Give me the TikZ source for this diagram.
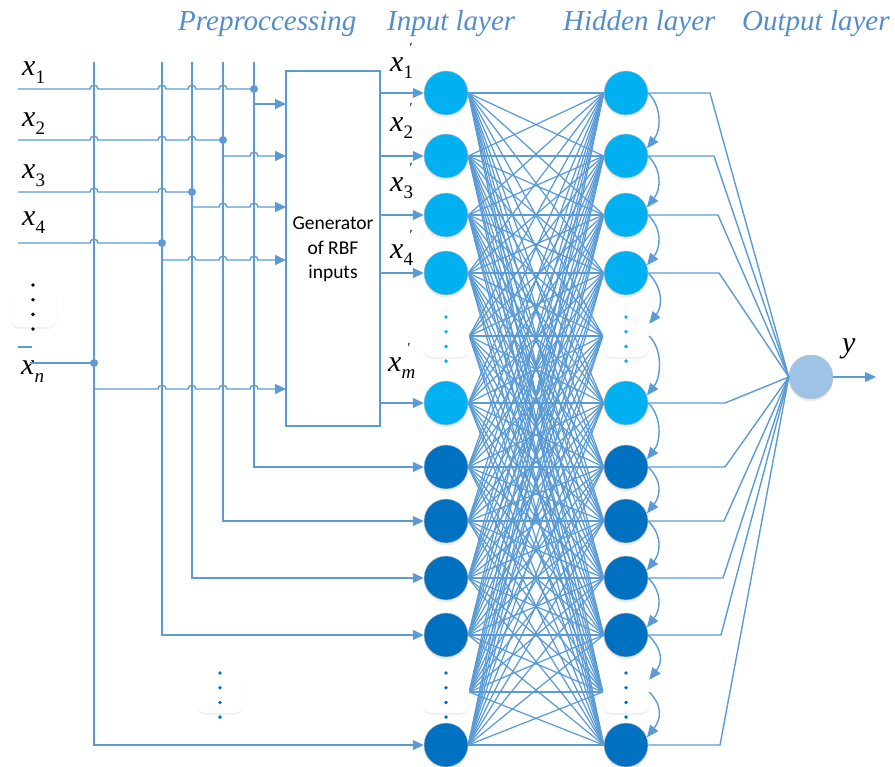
\documentclass[tikz,border=0pt]{standalone}
\usepackage{fontspec}
\setmainfont{Liberation Serif}
\newfontfamily\calibfont{Carlito}
\usetikzlibrary{arrows.meta,shadows,backgrounds}

\definecolor{wire}{HTML}{5B9BD5}
\definecolor{lightnode}{HTML}{00B0F0}
\definecolor{darknode}{HTML}{0070C0}
\definecolor{outnode}{HTML}{9DC3E6}
\definecolor{titleblue}{HTML}{548DC8}

% input variable x_k and generated input x'_k
\newcommand\xin[1]{{\itshape x}\raisebox{-8pt}{\fontsize{19}{19}\selectfont #1}}
\newcommand\xpr[1]{{\itshape x}\rlap{\hspace{6pt}\raisebox{19pt}{\fontsize{14}{14}\selectfont\symbol{"2032}}}\raisebox{-7pt}{\fontsize{19}{19}\selectfont #1}}

\tikzset{
  title/.style={font=\fontsize{29}{30}\selectfont\itshape, text=titleblue, inner sep=0pt, anchor=base west},
  lbl/.style={font=\fontsize{30}{32}\selectfont, inner sep=0pt, anchor=base west},
  wire/.style={draw=wire, line width=1.4pt},
  net/.style={draw=wire, line width=1.25pt},
  arr/.style={-{Triangle[length=11pt,width=10pt]}},
  carr/.style={-{Triangle[length=12pt,width=10pt]}},
  neuron/.style={circle, minimum size=44pt, inner sep=0pt, draw=black!25, line width=0.5pt,
    drop shadow={opacity=0.15, shadow xshift=0pt, shadow yshift=-2.5pt}},
  lnode/.style={neuron, fill=lightnode},
  dnode/.style={neuron, fill=darknode},
  onode/.style={neuron, fill=outnode},
  dotbox/.style={rectangle, rounded corners=9pt, fill=white, minimum width=46pt, minimum height=42pt,
    inner sep=0pt, drop shadow={opacity=0.12, shadow xshift=0pt, shadow yshift=-2pt}},
  jdot/.style={circle, fill=wire, minimum size=8pt, inner sep=0pt},
  genbox/.style={draw=wire, line width=1.2pt, fill=white, minimum width=94pt, minimum height=355pt, inner sep=0pt},
}

% four dots in a column, starting at (x,y)
\newcommand\dotcol[3]{\foreach \k in {0,1,2,3} \fill[#3] (#1,#2+\k*14.7) circle (1.9pt);}

\begin{document}
\begin{tikzpicture}[x=1pt,y=-1pt]
\useasboundingbox (0,0) rectangle (895,767);

% ---- titles
\node[title] (tpre) at (178,31) {Preproccessing};
\node[title] (tin)  at (387,31) {Input layer};
\node[title] (thid) at (563,31) {Hidden layer};
\node[title] (tout) at (742,31) {Output layer};

% ---- generator block
\node[genbox] (gen) at (333,248.5) {};
\node[font=\calibfont\fontsize{19.5}{24}\selectfont, anchor=base, inner sep=0pt] (g1) at (333,230) {Generator};
\node[font=\calibfont\fontsize{19.5}{24}\selectfont, anchor=base, inner sep=0pt] (g2) at (333,255) {of RBF};
\node[font=\calibfont\fontsize{19.5}{24}\selectfont, anchor=base, inner sep=0pt] (g3) at (333,279) {inputs};

% ---- input layer
\node[lnode] (i1) at (446,93) {};
\node[lnode] (i2) at (446,156) {};
\node[lnode] (i3) at (446,215) {};
\node[lnode] (i4) at (446,273) {};
\node[dotbox] (i5) at (446,336) {};
\node[lnode] (i6) at (446,403) {};
\node[dnode] (i7) at (446,467) {};
\node[dnode] (i8) at (446,521) {};
\node[dnode] (i9) at (446,578) {};
\node[dnode] (i10) at (446,635) {};
\node[dotbox] (i11) at (446,692) {};
\node[dnode] (i12) at (446,745) {};

% ---- hidden layer
\node[lnode] (h1) at (626,93) {};
\node[lnode] (h2) at (626,156) {};
\node[lnode] (h3) at (626,215) {};
\node[lnode] (h4) at (626,273) {};
\node[dotbox] (h5) at (626,336) {};
\node[lnode] (h6) at (626,403) {};
\node[dnode] (h7) at (626,467) {};
\node[dnode] (h8) at (626,521) {};
\node[dnode] (h9) at (626,578) {};
\node[dnode] (h10) at (626,635) {};
\node[dotbox] (h11) at (626,692) {};
\node[dnode] (h12) at (626,745) {};

% ---- output neuron
\node[onode] (o) at (811,377) {};
\coordinate (oend) at (876,377);
\node[lbl] (ylab) at (842,353) {\itshape y};

% ---- dots boxes on the left
\node[dotbox] (ldots) at (33.5,306) {};
\node[dotbox] (bdots) at (220,692) {};
\dotcol{33}{285}{black}
\dotcol{220}{673}{darknode}
\dotcol{446}{317}{lightnode}
\dotcol{626}{317}{lightnode}
\dotcol{446}{673}{darknode}
\dotcol{626}{673}{darknode}

% ---- fully connected weights between input and hidden layer
\begin{pgfonlayer}{background}
\foreach \a in {1,...,12}
  \foreach \b in {1,...,12}
    \draw[net] (i\a.east) -- (h\b.west);
\end{pgfonlayer}

% ---- hidden to output
\foreach \k/\y/\bx in {1/93/710, 2/156/714, 3/215/718, 4/273/719, 6/403/725,
                       7/467/725, 8/521/724, 9/578/723, 10/635/721, 12/745/720}
  \draw[wire] (h\k.east) -- (\bx,\y) -- (o.west);
\draw[wire,arr] (o.east) -- (oend);

% ---- recurrent links down the hidden column
\foreach \a/\b in {1/2, 2/3, 3/4, 5/6, 6/7, 7/8, 8/9, 9/10, 11/12}
  \draw[wire,carr] (h\a.east) .. controls +(14,14) and +(14,-18) .. (h\b.20);
\foreach \a/\b in {4/5, 10/11}
  \draw[wire,carr] (h\a.east) .. controls +(14,14) and +(14,-18) .. ([yshift=-9pt]h\b.north east);

% ---- generator outputs
\foreach \k in {1,2,3,4,6}
  \draw[wire,arr] (gen.east |- i\k.west) -- (i\k.west);

% ---- primed labels
\node[lbl] (p1) at (390,72) {\xpr{1}};
\node[lbl] (p2) at (390,132) {\xpr{2}};
\node[lbl] (p3) at (390,192) {\xpr{3}};
\node[lbl] (p4) at (390,259) {\xpr{4}};
\node[lbl] (pm) at (388,372) {\xpr{\itshape m}};

% ---- input labels
\node[lbl] (x1) at (22,76) {\xin{1}};
\node[lbl] (x2) at (22,127) {\xin{2}};
\node[lbl] (x3) at (22,179) {\xin{3}};
\node[lbl] (x4) at (22,226) {\xin{4}};
\node[lbl] (xn) at (21,375) {\xin{\itshape n}};

% ---- preprocessing bus: vertical lines, then into the lower input nodes
\draw[wire,arr] (254,62) |- (i7.west);
\draw[wire,arr] (223,62) |- (i8.west);
\draw[wire,arr] (192,62) |- (i9.west);
\draw[wire,arr] (162,62) |- (i10.west);
\draw[wire,arr] (94,62)  |- (i12.west);

% input lines with hops over the bus
\draw[wire] (18,89) foreach \c in {94,162,192,223} { -- (\c-4,89) .. controls (\c-4,84) and (\c+4,84) .. (\c+4,89) } -- (254,89);
\draw[wire] (18,140) foreach \c in {94,162,192} { -- (\c-4,140) .. controls (\c-4,135) and (\c+4,135) .. (\c+4,140) } -- (223,140);
\draw[wire] (18,192) foreach \c in {94,162} { -- (\c-4,192) .. controls (\c-4,187) and (\c+4,187) .. (\c+4,192) } -- (192,192);
\draw[wire] (18,243) foreach \c in {94} { -- (\c-4,243) .. controls (\c-4,238) and (\c+4,238) .. (\c+4,243) } -- (162,243);
\draw[wire] (30,363) -- (94,363);
\draw[wire] (18,347) -- (32,347);

\node[jdot] (j1) at (254,89) {};
\node[jdot] (j2) at (223,140) {};
\node[jdot] (j3) at (192,192) {};
\node[jdot] (j4) at (162,243) {};
\node[jdot] (j5) at (94,363) {};

% bus taps into the generator
\coordinate (gi1) at (286,104);
\coordinate (gi2) at (286,156);
\coordinate (gi3) at (286,207);
\coordinate (gi4) at (286,260);
\coordinate (gi5) at (286,389);
\draw[wire,arr] (254,104) -- (gi1);
\draw[wire,arr] (223,156) foreach \c in {254} { -- (\c-4,156) .. controls (\c-4,151) and (\c+4,151) .. (\c+4,156) } -- (gi2);
\draw[wire,arr] (192,207) foreach \c in {223,254} { -- (\c-4,207) .. controls (\c-4,202) and (\c+4,202) .. (\c+4,207) } -- (gi3);
\draw[wire,arr] (162,260) foreach \c in {192,223,254} { -- (\c-4,260) .. controls (\c-4,255) and (\c+4,255) .. (\c+4,260) } -- (gi4);
\draw[wire,arr] (94,389) foreach \c in {162,192,223,254} { -- (\c-4,389) .. controls (\c-4,384) and (\c+4,384) .. (\c+4,389) } -- (gi5);
\end{tikzpicture}
\end{document}
